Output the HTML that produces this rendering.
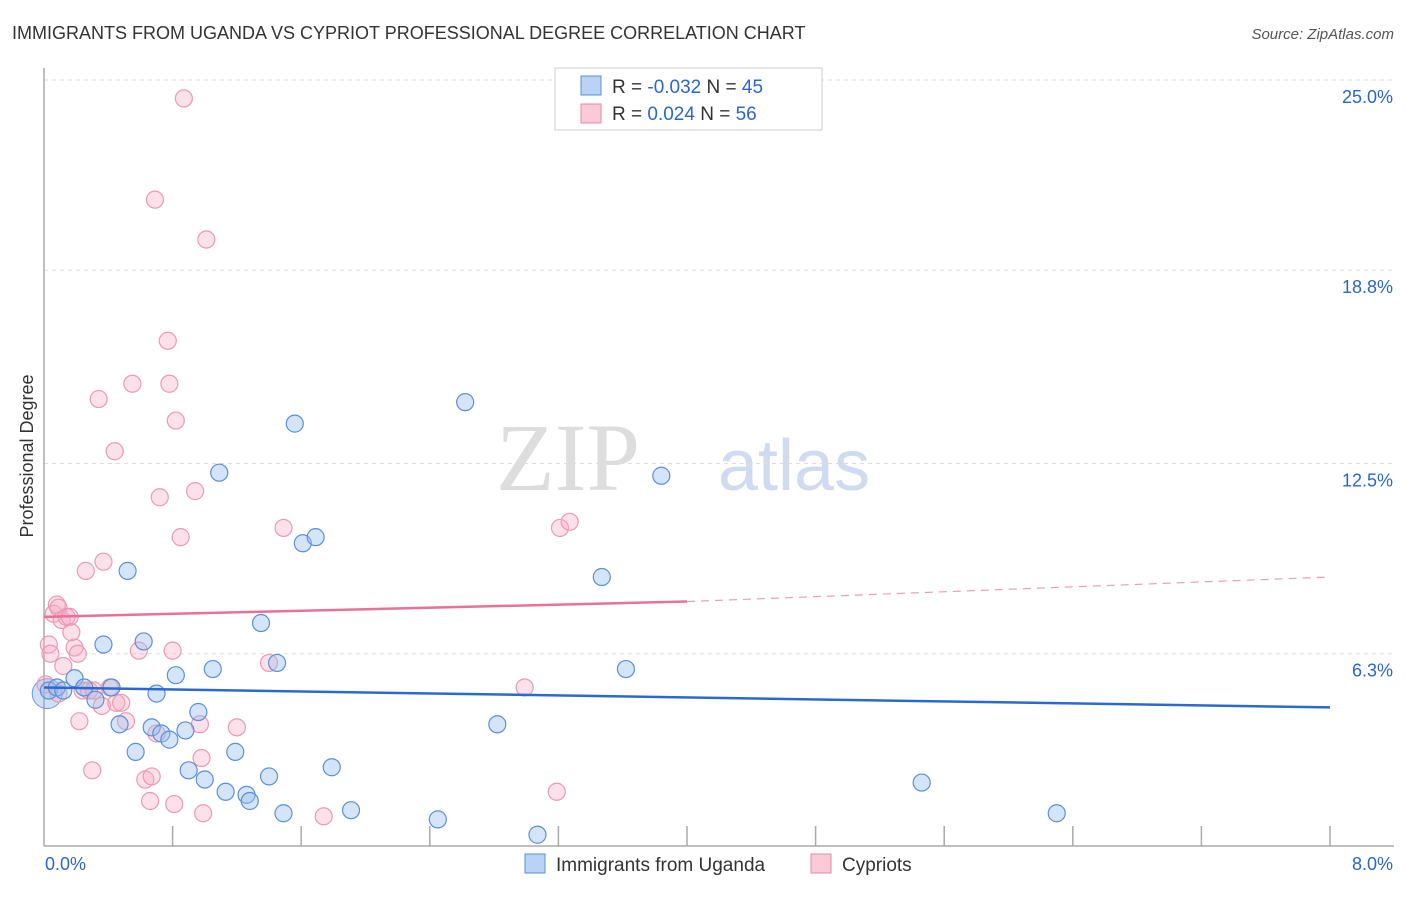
<!DOCTYPE html>
<html><head><meta charset="utf-8"><style>
body{margin:0;background:#fff;font-family:"Liberation Sans",sans-serif}
</style></head><body>
<svg id="chart" width="1406" height="892" viewBox="0 0 1406 892" xmlns="http://www.w3.org/2000/svg">
<text x="12" y="39" font-size="18" fill="#333">IMMIGRANTS FROM UGANDA VS CYPRIOT PROFESSIONAL DEGREE CORRELATION CHART</text>
<text x="1394" y="39" font-size="15" fill="#555" font-style="italic" text-anchor="end">Source: ZipAtlas.com</text>
<text x="640" y="490" font-size="96" fill="#ddd" font-family="Liberation Serif" text-anchor="end">ZIP</text>
<text x="718" y="490" font-size="72" fill="#cfdcf0">atlas</text>
<g id="grid"></g><g id="axes"></g><g id="marks"></g>
<text transform="translate(33,456) rotate(-90)" font-size="18" fill="#333" text-anchor="middle">Professional Degree</text>
<g>
<rect x="555" y="68" width="267" height="62" fill="#fff" stroke="#ccc"/>
<rect x="581" y="76" width="20" height="19" fill="#b9d2f5" stroke="#5b8fd8"/>
<rect x="581" y="104" width="20" height="19" fill="#fbc9d7" stroke="#e58aa6"/>
<text x="612" y="93" font-size="19" fill="#333">R = <tspan fill="#2a66cc">-0.032</tspan>   N = <tspan fill="#2a66cc">45</tspan></text>
<text x="612" y="120" font-size="19" fill="#333">R =  <tspan fill="#2a66cc">0.024</tspan>   N = <tspan fill="#2a66cc">56</tspan></text>
</g>
<g>
<rect x="525" y="854" width="20" height="19" fill="#b9d2f5" stroke="#5b8fd8"/>
<text x="556" y="871" font-size="19" fill="#333">Immigrants from Uganda</text>
<rect x="811" y="854" width="20" height="19" fill="#fbc9d7" stroke="#e58aa6"/>
<text x="842" y="871" font-size="19" fill="#333">Cypriots</text>
</g>
</svg>
<script>
const yTicks=[25.0,18.8,12.5,6.3];
const yTickLabels=["25.0%","18.8%","12.5%","6.3%"];
const xLabels=["0.0%","8.0%"];
const blueX=[0.03,0.08,0.12,0.19,0.25,0.32,0.37,0.42,0.47,0.52,0.57,0.62,0.67,0.70,0.73,0.78,0.82,0.88,0.90,0.96,1.00,1.05,1.09,1.13,1.19,1.26,1.28,1.35,1.40,1.45,1.49,1.56,1.61,1.69,1.79,1.91,2.45,2.62,2.82,3.07,3.47,3.62,3.84,5.46,6.30];
const blueY=[5.1,5.2,5.1,5.5,5.2,4.8,6.6,5.2,4.0,9.0,3.1,6.7,3.9,5.0,3.7,3.5,5.6,3.8,2.5,4.4,2.2,5.8,12.2,1.8,3.1,1.7,1.5,7.3,2.3,6.0,1.1,13.8,9.9,10.1,2.6,1.2,0.9,14.5,4.0,0.4,8.8,5.8,12.1,2.1,1.1];
const pinkX=[0.03,0.04,0.06,0.08,0.09,0.11,0.12,0.14,0.16,0.17,0.19,0.21,0.22,0.24,0.26,0.28,0.30,0.31,0.34,0.36,0.37,0.41,0.44,0.45,0.48,0.51,0.55,0.59,0.63,0.66,0.67,0.69,0.70,0.72,0.77,0.78,0.80,0.81,0.82,0.85,0.87,0.94,0.97,0.98,0.99,1.01,1.20,1.40,1.49,1.74,2.99,3.19,3.21,3.27,0.01,0.09];
const pinkY=[6.6,6.3,7.6,7.9,7.8,7.4,5.9,7.5,7.5,7.0,6.5,6.3,4.1,5.1,9.0,5.1,2.5,5.1,14.6,4.6,9.3,5.2,12.9,4.7,4.7,4.1,15.1,6.4,2.2,1.5,2.3,21.1,3.7,11.4,16.5,15.1,6.4,1.4,13.9,10.1,24.4,11.6,4.0,2.9,1.1,19.8,3.9,6.0,10.4,1.0,5.2,1.8,10.4,10.6,5.3,5.0];
const NS='http://www.w3.org/2000/svg';
const x0=44,x1=1330,yb=847,yt=80;
const xs=v=>x0+(v/8)*(x1-x0);
const ys=v=>yb-(v/25)*(yb-yt);
function mk(t,a,p){const e=document.createElementNS(NS,t);for(const k in a)e.setAttribute(k,a[k]);document.getElementById(p).appendChild(e);return e;}
yTicks.forEach((t,i)=>{
 const l=mk('line',{x1:x0,x2:1394,y1:ys(t),y2:ys(t),stroke:'#ddd','stroke-dasharray':'4,4'},'grid');
 
 
 const tx=mk('text',{x:1393,y:ys(t)+23,'font-size':18,fill:'#2a66cc','text-anchor':'end'},'axes');
 tx.textContent=yTickLabels[i];
 
 
});
let ax=mk('line',{x1:x0,x2:x0,y1:68,y2:846,stroke:'#aaa','stroke-width':1.5},'axes');


ax=mk('line',{x1:x0,x2:x1+64,y1:846,y2:846,stroke:'#aaa','stroke-width':1.5},'axes');


for(let i=1;i<=10;i++){
 const tk=mk('line',{x1:x0+i*128.6,x2:x0+i*128.6,y1:826,y2:846,stroke:'#aaa','stroke-width':1.5},'axes');
 
 
}
let xl=mk('text',{x:45,y:870,'font-size':18,fill:'#2a66cc'},'axes');xl.textContent=xLabels[0];


xl=mk('text',{x:1393,y:870,'font-size':18,fill:'#2a66cc','text-anchor':'end'},'axes');xl.textContent=xLabels[1];


let big=mk('circle',{cx:xs(0.02),cy:ys(5.0),r:15,fill:'rgba(120,165,230,0.35)',stroke:'#6b9ae0'},'marks');


pinkX.forEach((v,i)=>{const c=mk('circle',{cx:xs(v),cy:ys(pinkY[i]),r:8.5,fill:'rgba(248,170,195,0.35)',stroke:'#eb9ab3','stroke-width':1.2},'marks');
 
 });
blueX.forEach((v,i)=>{const c=mk('circle',{cx:xs(v),cy:ys(blueY[i]),r:8.5,fill:'rgba(150,190,240,0.4)',stroke:'#5b8fd8','stroke-width':1.2},'marks');
 
 });
let t=mk('line',{x1:xs(0),y1:ys(5.2),x2:xs(8),y2:ys(4.55),stroke:'#2a6ad0','stroke-width':2.5},'marks');


t=mk('line',{x1:xs(0),y1:ys(7.5),x2:xs(4),y2:ys(8.0),stroke:'#e8709a','stroke-width':2.5},'marks');


t=mk('line',{x1:xs(4),y1:ys(8.0),x2:xs(8),y2:ys(8.8),stroke:'#e8a0b8','stroke-width':1.2,'stroke-dasharray':'8,6'},'marks');


</script>
</body></html>
